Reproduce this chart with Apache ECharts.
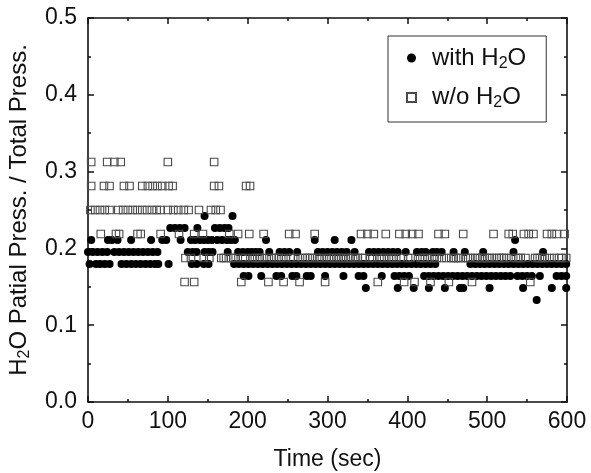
<!DOCTYPE html>
<html><head><meta charset="utf-8">
<script src="https://cdn.jsdelivr.net/npm/echarts@6/dist/echarts.min.js"></script>
<style>html,body{margin:0;padding:0;background:#fff}#c{width:591px;height:473px}</style>
</head><body><div id="c"></div>
<script>
// Tick labels
const xTicks = [0, 100, 200, 300, 400, 500, 600];
const yTicks = [0.0, 0.1, 0.2, 0.3, 0.4, 0.5];
const seriesNames = ['with H2O', 'w/o H2O'];

// with H2O : [time (sec), H2O partial press. / total press.]
const withH2O = [
 // 0.2422
 [146,0.2422],[181,0.2422],
 // 0.2266
 [103,0.2266],[109,0.2266],[115,0.2266],[121,0.2266],[137,0.2266],[159,0.2266],[165,0.2266],[171,0.2266],[176,0.2266],
 // 0.2109
 [4,0.2109],[25,0.2109],[30,0.2109],[37,0.2109],[54,0.2109],[79,0.2109],[93,0.2109],[98,0.2109],[116,0.2109],[129,0.2109],
 [134,0.2109],[140,0.2109],[145,0.2109],[150,0.2109],[155,0.2109],[162,0.2109],[168,0.2109],[174,0.2109],[179,0.2109],[184,0.2109],
 [223,0.2109],[284,0.2109],[309,0.2109],[330,0.2109],[535,0.2109],
 // 0.1953
 [0,0.1953],[6,0.1953],[12,0.1953],[18,0.1953],[24,0.1953],[33,0.1953],[39,0.1953],[45,0.1953],[51,0.1953],[57,0.1953],
 [63,0.1953],[69,0.1953],[75,0.1953],[81,0.1953],[87,0.1953],[125,0.1953],[131,0.1953],[136,0.1953],[146,0.1953],[151,0.1953],
 [156,0.1953],[175,0.1953],[188,0.1953],[194,0.1953],[200,0.1953],[205,0.1953],[210,0.1953],[215,0.1953],[227,0.1953],[240,0.1953],
 [246,0.1953],[252,0.1953],[262,0.1953],[288,0.1953],[294,0.1953],[300,0.1953],[306,0.1953],[312,0.1953],[318,0.1953],[324,0.1953],
 [334,0.1953],[352,0.1953],[358,0.1953],[364,0.1953],[370,0.1953],[376,0.1953],[382,0.1953],[388,0.1953],[398,0.1953],[412,0.1953],
 [418,0.1953],[423,0.1953],[432,0.1953],[437,0.1953],[443,0.1953],[458,0.1953],[472,0.1953],[495,0.1953],[533,0.1953],[570,0.1953],
 // 0.1797
 [2,0.1797],[10,0.1797],[15,0.1797],[21,0.1797],[27,0.1797],[42,0.1797],[48,0.1797],[54,0.1797],[60,0.1797],[66,0.1797],
 [72,0.1797],[78,0.1797],[84,0.1797],[88,0.1797],[101,0.1797],[130,0.1797],[136,0.1797],[145,0.1797],[151,0.1797],
 [183,0.1797],[189,0.1797],[195,0.1797],[201,0.1797],[207,0.1797],[213,0.1797],[219,0.1797],[225,0.1797],[231,0.1797],[237,0.1797],
 [243,0.1797],[249,0.1797],[255,0.1797],[261,0.1797],[267,0.1797],[273,0.1797],[279,0.1797],[285,0.1797],[291,0.1797],[297,0.1797],
 [303,0.1797],[309,0.1797],[315,0.1797],[321,0.1797],[327,0.1797],[333,0.1797],[339,0.1797],[345,0.1797],[351,0.1797],[357,0.1797],
 [363,0.1797],[369,0.1797],[375,0.1797],[381,0.1797],[387,0.1797],[393,0.1797],[399,0.1797],[405,0.1797],[411,0.1797],[417,0.1797],
 [423,0.1797],[429,0.1797],[435,0.1797],[479,0.1797],[485,0.1797],[491,0.1797],[497,0.1797],[503,0.1797],[509,0.1797],[515,0.1797],
 [521,0.1797],[527,0.1797],[533,0.1797],[539,0.1797],[545,0.1797],[551,0.1797],[557,0.1797],[563,0.1797],[569,0.1797],[575,0.1797],
 [581,0.1797],[587,0.1797],[593,0.1797],[599,0.1797],
 // 0.1641
 [195,0.1641],[201,0.1641],[217,0.1641],[236,0.1641],[242,0.1641],[256,0.1641],[261,0.1641],[274,0.1641],[279,0.1641],[297,0.1641],
 [320,0.1641],[339,0.1641],[345,0.1641],[368,0.1641],[384,0.1641],[390,0.1641],[396,0.1641],[402,0.1641],[421,0.1641],[427,0.1641],
 [433,0.1641],[439,0.1641],[445,0.1641],[451,0.1641],[457,0.1641],[463,0.1641],[469,0.1641],[475,0.1641],[481,0.1641],[487,0.1641],
 [493,0.1641],[499,0.1641],[505,0.1641],[511,0.1641],[517,0.1641],[523,0.1641],[529,0.1641],[538,0.1641],[544,0.1641],[550,0.1641],
 [556,0.1641],[566,0.1641],[587,0.1641],[593,0.1641],[599,0.1641],
 // 0.1484
 [348,0.1484],[388,0.1484],[408,0.1484],[427,0.1484],[447,0.1484],[466,0.1484],[470,0.1484],[503,0.1484],[545,0.1484],[581,0.1484],[599,0.1484],
 // 0.1328
 [562,0.1328]
];

// w/o H2O : [time (sec), H2O partial press. / total press.]
const woH2O = [
 // 0.3125
 [4,0.3125],[24,0.3125],[33,0.3125],[41,0.3125],[100,0.3125],[158,0.3125],
 // 0.2813
 [4,0.2813],[20,0.2813],[27,0.2813],[45,0.2813],[52,0.2813],[68,0.2813],[75,0.2813],[81,0.2813],[87,0.2813],[93,0.2813],
 [101,0.2813],[106,0.2813],[158,0.2813],[164,0.2813],[198,0.2813],[203,0.2813],
 // 0.25
 [3,0.25],[9,0.25],[15,0.25],[21,0.25],[27,0.25],[38,0.25],[44,0.25],[50,0.25],[56,0.25],[62,0.25],
 [68,0.25],[74,0.25],[80,0.25],[86,0.25],[91,0.25],[100,0.25],[107,0.25],[113,0.25],[120,0.25],[126,0.25],
 [139,0.25],[154,0.25],[160,0.25],[166,0.25],
 // 0.2188
 [16,0.2188],[35,0.2188],[39,0.2188],[62,0.2188],[66,0.2188],[91,0.2188],[114,0.2188],[133,0.2188],[144,0.2188],[177,0.2188],
 [188,0.2188],[202,0.2188],[220,0.2188],[252,0.2188],[260,0.2188],[284,0.2188],[342,0.2188],[350,0.2188],[358,0.2188],[373,0.2188],
 [390,0.2188],[398,0.2188],[406,0.2188],[414,0.2188],[439,0.2188],[447,0.2188],[470,0.2188],[508,0.2188],[527,0.2188],[532,0.2188],
 [546,0.2188],[552,0.2188],[558,0.2188],[575,0.2188],[581,0.2188],[587,0.2188],[597,0.2188],
 // 0.1875
 [122,0.1875],[129,0.1875],[145,0.1875],[152,0.1875],[167,0.1875],[170,0.1875],[173,0.1875],[179,0.1875],[182,0.1875],[185,0.1875],
 [194,0.1875],[197,0.1875],[206,0.1875],[209,0.1875],[212,0.1875],[215,0.1875],[218,0.1875],[224,0.1875],[230,0.1875],[233,0.1875],
 [236,0.1875],[239,0.1875],[242,0.1875],[248,0.1875],[254,0.1875],[257,0.1875],[263,0.1875],[269,0.1875],[272,0.1875],[275,0.1875],
 [278,0.1875],[281,0.1875],[287,0.1875],[290,0.1875],[293,0.1875],[299,0.1875],[302,0.1875],[305,0.1875],[308,0.1875],[311,0.1875],
 [314,0.1875],[317,0.1875],[320,0.1875],[323,0.1875],[326,0.1875],[329,0.1875],[332,0.1875],[335,0.1875],[338,0.1875],[344,0.1875],
 [347,0.1875],[353,0.1875],[356,0.1875],[365,0.1875],[368,0.1875],[371,0.1875],[377,0.1875],[380,0.1875],[383,0.1875],[386,0.1875],
 [392,0.1875],[401,0.1875],[404,0.1875],[416,0.1875],[419,0.1875],[422,0.1875],[425,0.1875],[431,0.1875],[434,0.1875],[437,0.1875],
 [443,0.1875],[449,0.1875],[455,0.1875],[458,0.1875],[461,0.1875],[464,0.1875],[467,0.1875],[473,0.1875],[476,0.1875],[479,0.1875],
 [485,0.1875],[488,0.1875],[491,0.1875],[494,0.1875],[497,0.1875],[500,0.1875],[503,0.1875],[506,0.1875],[512,0.1875],[515,0.1875],
 [518,0.1875],[521,0.1875],[524,0.1875],[530,0.1875],[536,0.1875],[539,0.1875],[542,0.1875],[548,0.1875],[560,0.1875],[563,0.1875],
 [566,0.1875],[569,0.1875],[572,0.1875],[578,0.1875],[584,0.1875],[590,0.1875],[593,0.1875],[599,0.1875],
 // 0.1563
 [121,0.1563],[133,0.1563],[192,0.1563],[226,0.1563],[245,0.1563],[265,0.1563],[297,0.1563],[363,0.1563],[396,0.1563],[409,0.1563],
 [429,0.1563],[452,0.1563],[481,0.1563],[554,0.1563]
];

const FONT = '"Liberation Sans", Arial, sans-serif';
const INK = '#111';
function richSub(size) {
  return {
    n: {fontSize: size, fontFamily: FONT, color: INK},
    s: {fontSize: Math.round(size * 0.65), fontFamily: FONT, color: INK, padding: [Math.round(size * 0.45), 0, 0, 0]},
    g: {width: 11}
  };
}
function axisBase() {
  return {
    axisLine: {show: true, onZero: false, lineStyle: {color: INK, width: 1.6}},
    axisTick: {show: true, inside: true, length: 6, lineStyle: {color: INK, width: 1.5}},
    minorTick: {show: true, splitNumber: 2, length: 3, lineStyle: {color: INK, width: 1.5}},
    splitLine: {show: false}
  };
}
const xMin = xTicks[0], xMax = xTicks[xTicks.length - 1], xInt = xTicks[1] - xTicks[0];
const yMin = yTicks[0], yMax = yTicks[yTicks.length - 1], yInt = +(yTicks[1] - yTicks[0]).toFixed(3);

const chart = echarts.init(document.getElementById('c'));
chart.setOption({
  animation: false,
  backgroundColor: '#fff',
  grid: {left: 88, right: 24, top: 18, bottom: 71, containLabel: false, outerBoundsMode: 'none'},
  xAxis: [
    Object.assign(axisBase(), {
      type: 'value', min: xMin, max: xMax, interval: xInt, position: 'bottom',
      axisLabel: {fontSize: 23, fontFamily: FONT, color: INK, margin: 8},
      name: 'Time (sec)', nameLocation: 'middle', nameGap: 46,
      nameTextStyle: {fontSize: 23, fontFamily: FONT, color: INK}
    }),
    Object.assign(axisBase(), {
      type: 'value', min: xMin, max: xMax, interval: xInt, position: 'top',
      axisLabel: {show: false}
    })
  ],
  yAxis: [
    Object.assign(axisBase(), {
      type: 'value', min: yMin, max: yMax, interval: yInt, position: 'left',
      axisLabel: {fontSize: 23, fontFamily: FONT, color: INK, margin: 11, formatter: v => v.toFixed(1)},
      name: '{n|H}{s|2}{n|O Patial Press. / Total Press.}', nameLocation: 'middle', nameGap: 55, nameRotate: 90,
      nameTextStyle: {rich: richSub(24)}
    }),
    Object.assign(axisBase(), {
      type: 'value', min: yMin, max: yMax, interval: yInt, position: 'right',
      axisLabel: {show: false}
    })
  ],
  legend: {
    orient: 'vertical', left: 388, top: 36,
    padding: [10, 20, 11, 18], itemGap: 14, itemWidth: 9, itemHeight: 9,
    borderColor: '#333', borderWidth: 1, backgroundColor: '#fff',
    data: seriesNames,
    formatter: function (name) {
      return name === seriesNames[0] ? '{g|}{n|with H}{s|2}{n|O}' : '{g|}{n|w/o H}{s|2}{n|O}';
    },
    textStyle: {rich: richSub(24)}
  },
  series: [
    {name: seriesNames[0], type: 'scatter', data: withH2O, symbol: 'circle', symbolSize: 8,
     itemStyle: {color: '#000', opacity: 1}, z: 2},
    {name: seriesNames[1], type: 'scatter', data: woH2O, symbol: 'rect', symbolSize: 7.5,
     itemStyle: {color: 'rgba(255,255,255,0)', borderColor: '#4a4a4a', borderWidth: 1.1, opacity: 1}, z: 3}
  ]
});
</script></body></html>
